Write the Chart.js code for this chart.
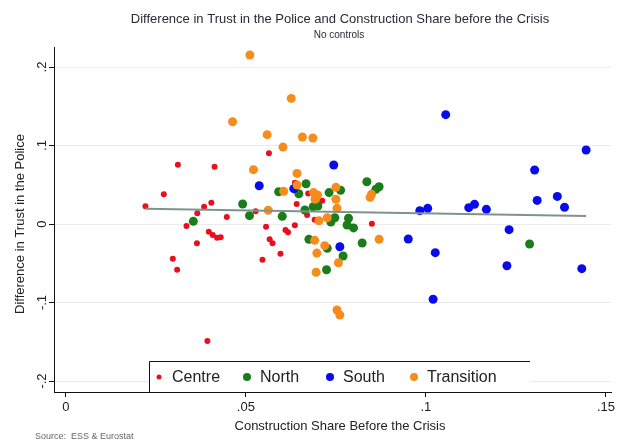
<!DOCTYPE html>
<html>
<head>
<meta charset="utf-8">
<title>Difference in Trust in the Police and Construction Share</title>
<script src="https://cdn.jsdelivr.net/npm/chart.js@4.4.1/dist/chart.umd.min.js"></script>
<style>
  html, body { margin: 0; padding: 0; background: #fff; }
  #wrap { width: 618px; height: 443px; }
</style>
</head>
<body>
<div id="wrap"><canvas id="scatter-chart" width="618" height="443"></canvas></div>
<script>
/*------------------
     Data
--------------------*/
const regions = ['Centre', 'North', 'South', 'Transition'];

const centreX = [.0221,.0272,.0311,.0413,.0384,.0404,.0365,.0335,.0364,.0397,.0408,.0420,.0430,.0297,.0309,.0393,.0447,
                 .0527,.0564,.0636,.0641,.0673,.0712,.0670,.0691,.0556,.0610,.0617,.0636,.0566,.0574,.0596,.0546,.0850];
const centreY = [.0225,.0380,.0756,.0730,.0220,.0270,.0136,-.0025,-.0246,-.0098,-.0140,-.0175,-.0170,-.0442,-.0582,-.1490,.0089,
                 .0162,.0900,.0526,.0255,.0390,.0297,.0115,.0055,-.0034,-.0076,-.0106,-.0017,-.0195,-.0246,-.0378,-.0454,.0004];

const northX = [.0354,.0491,.0510,.0591,.0647,.0667,.0601,.0664,.0700,.0687,.0731,.0763,.0747,
                .0736,.0785,.0781,.0799,.0675,.0726,.0770,.0724,.0823,.0836,.0870,.0861,.1288];
const northY = [.0034,.0255,.0106,.0411,.0386,.0513,.0098,.0178,.0229,.0220,.0400,.0430,.0080,
                .0025,.0073,-.0013,-.0050,-.0195,-.0310,-.0408,-.0582,-.0242,.0539,.0475,.0442,-.0255];

const southX = [.0537,.0633,.0744,.0761,.1055,.1445,.1302,.1309,.1365,.1385,.0983,
                .1005,.1119,.1135,.1168,.0951,.1231,.1026,.1225,.1433,.1020];
const southY = [.0488,.0450,.0752,-.0289,.1393,.0943,.0688,.0301,.0352,.0213,.0170,
                .0200,.0208,.0251,.0187,-.0191,-.0072,-.0365,-.0531,-.0569,-.0959];

const transX = [.0511,.0626,.0463,.0559,.0657,.0686,.0603,.0521,.0642,.0642,.0605,.0688,.0699,.0692,.0750,
                .0750,.0562,.0753,.0726,.0703,.0691,.0719,.0697,.0757,.0695,.0753,.0761,.0870,.0845,.0849];
const transY = [.2153,.1600,.1303,.1138,.1108,.1096,.0980,.0692,.0645,.0497,.0416,.0400,.0370,.0315,.0467,
                .0315,.0175,.0200,.0080,.0042,-.0208,-.0276,-.0370,-.0493,-.0615,-.1096,-.1159,-.0195,.0340,.0378];

// fitted line (end points)
const fitX = [.0221, .1445];
const fitY = [.0195, .0102];

const xTicks = [0, .05, .1, .15];
const yTicks = [-.2, -.1, 0, .1, .2];

const titleText = 'Difference in Trust in the Police and Construction Share before the Crisis';
const subtitleText = 'No controls';
const xTitle = 'Construction Share Before the Crisis';
const yTitle = 'Difference in Trust in the Police';
const sourceText = 'Source:  ESS & Eurostat';

/*------------------
     Helpers
--------------------*/
const FONT = '"Liberation Sans", Arial, Helvetica, sans-serif';

function stataNum(v) {
    if (Math.abs(v) < 1e-9) return '0';
    var s = String(Math.abs(+v.toFixed(3))).replace(/^0/, '');
    return (v < 0 ? '-' : '') + s;
}

function toPoints(xs, ys) {
    return xs.map(function (x, i) { return { x: x, y: ys[i] }; });
}

/*------------------
     Extra drawing (titles, rotated y labels, legend box)
--------------------*/
const stataDecor = {
    id: 'stataDecor',
    afterDraw: function (chart) {
        var ctx = chart.ctx;
        var ys = chart.scales.y;
        ctx.save();

        ctx.textAlign = 'center';
        ctx.textBaseline = 'middle';
        ctx.fillStyle = '#2a2a38';
        ctx.font = '13px ' + FONT;
        ctx.fillText(titleText, 340, 19);
        ctx.font = '10px ' + FONT;
        ctx.fillText(subtitleText, 339, 35);

        // y tick labels, vertical like stata
        ctx.fillStyle = '#222';
        ctx.font = '13px ' + FONT;
        yTicks.forEach(function (v) {
            var py = ys.getPixelForValue(v);
            ctx.save();
            ctx.translate(42, py);
            ctx.rotate(-Math.PI / 2);
            ctx.fillText(stataNum(v), 0, 0);
            ctx.restore();
        });

        // axis titles
        ctx.font = '13px ' + FONT;
        ctx.save();
        ctx.translate(20, 224);
        ctx.rotate(-Math.PI / 2);
        ctx.fillText(yTitle, 0, 0);
        ctx.restore();
        ctx.fillText(xTitle, 340, 426);

        ctx.textAlign = 'left';
        ctx.font = '9px ' + FONT;
        ctx.fillStyle = '#666';
        ctx.fillText(sourceText, 35, 437);

        // legend box
        var bx = 149, by = 361, bw = 381, bh = 31;
        ctx.fillStyle = '#fff';
        ctx.fillRect(bx, by, bw, bh);
        ctx.strokeStyle = '#111';
        ctx.lineWidth = 1;
        ctx.beginPath();
        ctx.moveTo(bx + 0.5, by + bh);
        ctx.lineTo(bx + 0.5, by + 0.5);
        ctx.lineTo(bx + bw, by + 0.5);
        ctx.moveTo(bx, by + bh + 0.5);
        ctx.lineTo(bx + bw, by + bh + 0.5);
        ctx.stroke();

        var itemX = [159, 247, 330, 414];
        ctx.font = '16px ' + FONT;
        ctx.textBaseline = 'middle';
        chart.data.datasets.forEach(function (ds) {
            var k = regions.indexOf(ds.label);
            if (k < 0) return;
            ctx.fillStyle = ds.backgroundColor;
            ctx.beginPath();
            ctx.arc(itemX[k], 377, ds.pointRadius - 0.5, 0, Math.PI * 2);
            ctx.fill();
            ctx.fillStyle = '#222';
            ctx.fillText(ds.label, itemX[k] + 13, 378);
        });

        ctx.restore();
    }
};

/*------------------
     Chart
--------------------*/
var scatterData = {
    datasets: [
        {
            label: 'Fit', type: 'line', data: toPoints(fitX, fitY),
            borderColor: '#7f928c', borderWidth: 2, pointRadius: 0, fill: false, order: 0
        },
        {
            label: regions[0], data: toPoints(centreX, centreY),
            backgroundColor: '#e8101c', pointRadius: 3, borderWidth: 0, order: 4
        },
        {
            label: regions[1], data: toPoints(northX, northY),
            backgroundColor: '#1a7c1a', pointRadius: 4.5, borderWidth: 0, order: 3
        },
        {
            label: regions[2], data: toPoints(southX, southY),
            backgroundColor: '#0a0aee', pointRadius: 4.5, borderWidth: 0, order: 2
        },
        {
            label: regions[3], data: toPoints(transX, transY),
            backgroundColor: '#f58c1c', pointRadius: 4.5, borderWidth: 0, order: 1
        }
    ]
};

var scatterOptions = {
    responsive: false,
    animation: false,
    devicePixelRatio: 1,
    layout: { padding: { top: 47, right: 0, bottom: 0, left: 0 } },
    plugins: {
        legend: { display: false },
        tooltip: { enabled: false },
        title: { display: false }
    },
    scales: {
        x: {
            type: 'linear',
            min: -0.0033,
            max: 0.1515,
            afterBuildTicks: function (s) { s.ticks = xTicks.map(function (v) { return { value: v }; }); },
            afterFit: function (s) { s.height = 51; },
            ticks: {
                autoSkip: false,
                maxRotation: 0,
                padding: 3,
                color: '#222',
                font: { size: 13, family: FONT },
                callback: function (v) { return stataNum(v); }
            },
            grid: { drawOnChartArea: false, drawTicks: true, tickLength: 5, tickColor: '#111' },
            border: { color: '#111', width: 1 }
        },
        y: {
            type: 'linear',
            min: -0.214,
            max: 0.2255,
            afterBuildTicks: function (s) { s.ticks = yTicks.map(function (v) { return { value: v }; }); },
            afterFit: function (s) { s.width = 54; },
            ticks: { display: false },
            grid: { color: '#ececec', lineWidth: 1, drawTicks: true, tickLength: 5, tickColor: '#111' },
            border: { color: '#111', width: 1 }
        }
    }
};

var scatterChart = new Chart(document.getElementById('scatter-chart').getContext('2d'), {
    type: 'scatter',
    data: scatterData,
    options: scatterOptions,
    plugins: [stataDecor]
});
</script>
</body>
</html>
